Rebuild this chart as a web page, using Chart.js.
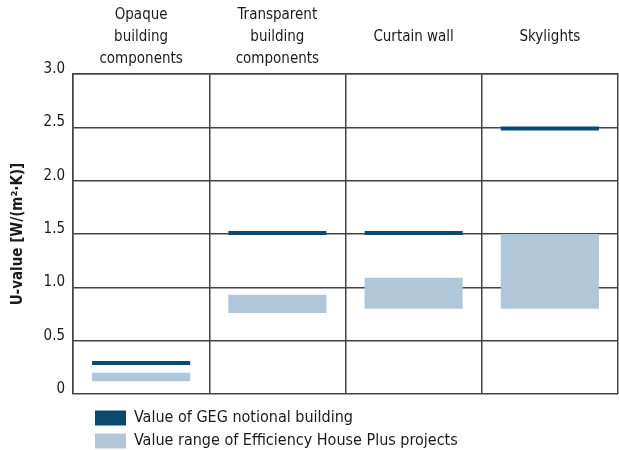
<!DOCTYPE html>
<html lang="en">
<head>
    <meta charset="UTF-8">
    <title>U-values</title>
    <script src="https://cdn.jsdelivr.net/npm/chart.js"></script>
    <style>
        html, body { margin: 0; padding: 0; background: #ffffff; }
        .janela { width: 619px; height: 450px; }
    </style>
</head>
<body>

<div class="janela">
    <canvas id="uChart" width="619" height="450"></canvas>
</div>

<script>
    // categories shown along the top (blank lines keep single-line names in the middle row)
    const categories = [
        ['Opaque', 'building', 'components'],
        ['Transparent', 'building', 'components'],
        ['', 'Curtain wall', ''],
        ['', 'Skylights', '']
    ];

    // GEG notional building value per category
    const gegValues = [0.29, 1.51, 1.51, 2.49];

    // Efficiency House Plus range (low / high)
    const rangeLow = [0.12, 0.76, 0.80, 0.80];
    const rangeHigh = [0.20, 0.93, 1.09, 1.50];

    const yTicks = [0, 0.5, 1.0, 1.5, 2.0, 2.5, 3.0];

    const gegLabel = 'Value of GEG notional building';
    const rangeLabel = 'Value range of Efficiency House Plus projects';

    // thickness of the GEG marker line, in axis units
    const lineHalf = 0.019;

    const gegBars = gegValues.map(v => [v - lineHalf, v + lineHalf]);
    const rangeBars = rangeLow.map((lo, i) => [lo, rangeHigh[i]]);

    const fonte = '"DejaVu Sans Condensed", "DejaVu Sans", sans-serif';
    const linhaCor = '#444444';

    // moves the legend under the plot, lined up with the bars
    const legendShift = {
        id: 'legendShift',
        afterLayout(chart) {
            chart.legend.left += 88;
            chart.legend.top += 9;
        }
    };

    const data = {
        labels: categories,
        datasets: [{
            label: gegLabel,
            data: gegBars,
            backgroundColor: '#0b4a6e',
            borderWidth: 0,
            grouped: false,
            barPercentage: 0.72,
            categoryPercentage: 1.0
        }, {
            label: rangeLabel,
            data: rangeBars,
            backgroundColor: '#b0c6d9',
            borderWidth: 0,
            grouped: false,
            barPercentage: 0.72,
            categoryPercentage: 1.0
        }]
    };

    const config = {
        type: 'bar',
        data: data,
        plugins: [legendShift],
        options: {
            responsive: false,
            animation: false,
            layout: {
                padding: { top: 0, right: 1, bottom: 0, left: 0 }
            },
            scales: {
                x: {
                    position: 'top',
                    grid: {
                        offset: true,
                        color: linhaCor,
                        lineWidth: 1.5,
                        drawTicks: false
                    },
                    border: { color: linhaCor, width: 1.5 },
                    ticks: {
                        color: '#1a1a1a',
                        padding: 4,
                        maxRotation: 0,
                        font: { family: fonte, size: 15, lineHeight: 1.47 }
                    }
                },
                y: {
                    min: 0,
                    max: 3,
                    afterBuildTicks: (scale) => {
                        scale.ticks = yTicks.map(v => ({ value: v }));
                    },
                    afterFit: (scale) => {
                        scale.width = 73;
                    },
                    grid: {
                        color: linhaCor,
                        lineWidth: 1.5,
                        drawTicks: false
                    },
                    border: { color: linhaCor, width: 1.5 },
                    ticks: {
                        color: '#1a1a1a',
                        padding: 8,
                        labelOffset: -5,
                        font: { family: fonte, size: 15 },
                        callback: (v) => v === 0 ? '0' : v.toFixed(1)
                    },
                    title: {
                        display: true,
                        text: 'U-value [W/(m²·K)]',
                        color: '#1a1a1a',
                        padding: { top: 9, bottom: 0 },
                        font: { family: fonte, size: 15, weight: 'bold' }
                    }
                }
            },
            plugins: {
                legend: {
                    position: 'bottom',
                    align: 'start',
                    labels: {
                        boxWidth: 31,
                        boxHeight: 15,
                        padding: 7,
                        color: '#1a1a1a',
                        font: { family: fonte, size: 16 }
                    }
                },
                tooltip: { enabled: false }
            }
        }
    };

    new Chart(document.getElementById('uChart'), config);
</script>

</body>
</html>
